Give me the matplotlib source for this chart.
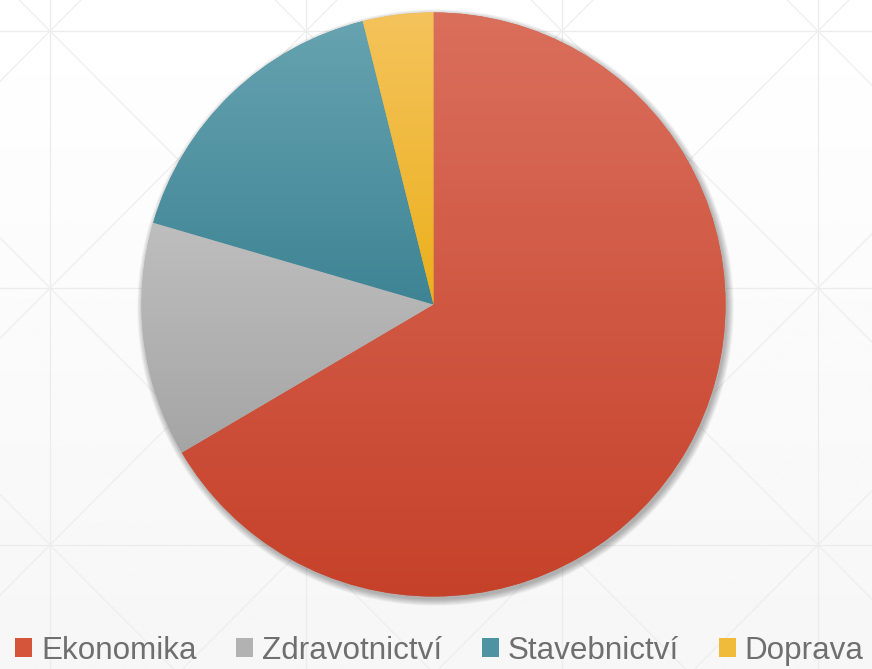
import matplotlib
matplotlib.use("Agg")
import matplotlib.pyplot as plt
import numpy as np
from matplotlib.colors import to_rgb
from matplotlib.patches import Patch, Circle

labels = ["Ekonomika", "Zdravotnictví", "Stavebnictví", "Doprava"]
values = [66.6, 13.0, 16.6, 3.9]
top_colors = ["#da6f5c", "#bebebe", "#67a3b1", "#f5c35c"]
bottom_colors = ["#c6412a", "#a5a5a5", "#3e8494", "#ebb01c"]
mid_colors = ["#d4553a", "#b2b2b2", "#4e93a2", "#f0ba3a"]

W, H = 872, 669
cx, cy, R = 433.5, H - 304.5, 292

fig = plt.figure(figsize=(W / 100, H / 100), dpi=100)
ax = fig.add_axes([0, 0, 1, 1])

# background: soft vertical gradient
bg = np.linspace(1.0, 0.965, 256).reshape(-1, 1)
ax.imshow(bg, cmap="gray", vmin=0, vmax=1, extent=(0, W, 0, H),
          aspect="auto", origin="upper", zorder=0, interpolation="bilinear")

# faint background lattice
xs = 50 + 256 * np.arange(-1, 5)
ys = H - (31 + 257 * np.arange(-1, 4))
for x in xs:
    ax.plot([x, x], [-50, H + 50], color="#ececec", lw=0.9, zorder=1)
for y in ys:
    ax.plot([-50, W + 50], [y, y], color="#ececec", lw=0.9, zorder=1)
for i in range(len(xs) - 1):
    for j in range(len(ys) - 1):
        ax.plot([xs[i], xs[i + 1]], [ys[j], ys[j + 1]], color="#eeeeee", lw=0.9, zorder=1)
        ax.plot([xs[i], xs[i + 1]], [ys[j + 1], ys[j]], color="#eeeeee", lw=0.9, zorder=1)

# soft shadow under the pie
for k in range(10):
    ax.add_patch(Circle((cx + 2, cy - 3), R + k * 0.7, color="k", alpha=0.03,
                        lw=0, zorder=2))

wedges, _ = ax.pie(values, startangle=90, counterclock=False, center=(cx, cy),
                   radius=R, colors=mid_colors, wedgeprops=dict(linewidth=0))

# per-slice vertical gradient fill
for w, c_top, c_bot in zip(wedges, top_colors, bottom_colors):
    w.set_zorder(3)
    v = w.get_path().vertices
    x0, x1 = v[:, 0].min(), v[:, 0].max()
    y0, y1 = v[:, 1].min(), v[:, 1].max()
    t = np.linspace(0, 1, 256).reshape(-1, 1, 1)
    grad = (1 - t) * np.array(to_rgb(c_top)) + t * np.array(to_rgb(c_bot))
    im = ax.imshow(grad, extent=(x0, x1, y0, y1), aspect="auto", origin="upper",
                   zorder=4, interpolation="bilinear")
    im.set_clip_path(w)

ax.set_xlim(0, W)
ax.set_ylim(0, H)
ax.set_aspect("auto")
ax.axis("off")

handles = [Patch(facecolor=c, edgecolor="none") for c in mid_colors]
fig.legend(handles, labels, loc="center left", bbox_to_anchor=(15 / W, 1 - 651 / H),
           ncol=4, frameon=False, borderpad=0, borderaxespad=0,
           prop={"family": "Liberation Sans", "size": 22.6}, labelcolor="#6f6f6f",
           handlelength=0.55, handleheight=0.55, handletextpad=0.28, columnspacing=1.26)

fig.savefig("out.png", dpi=100)
